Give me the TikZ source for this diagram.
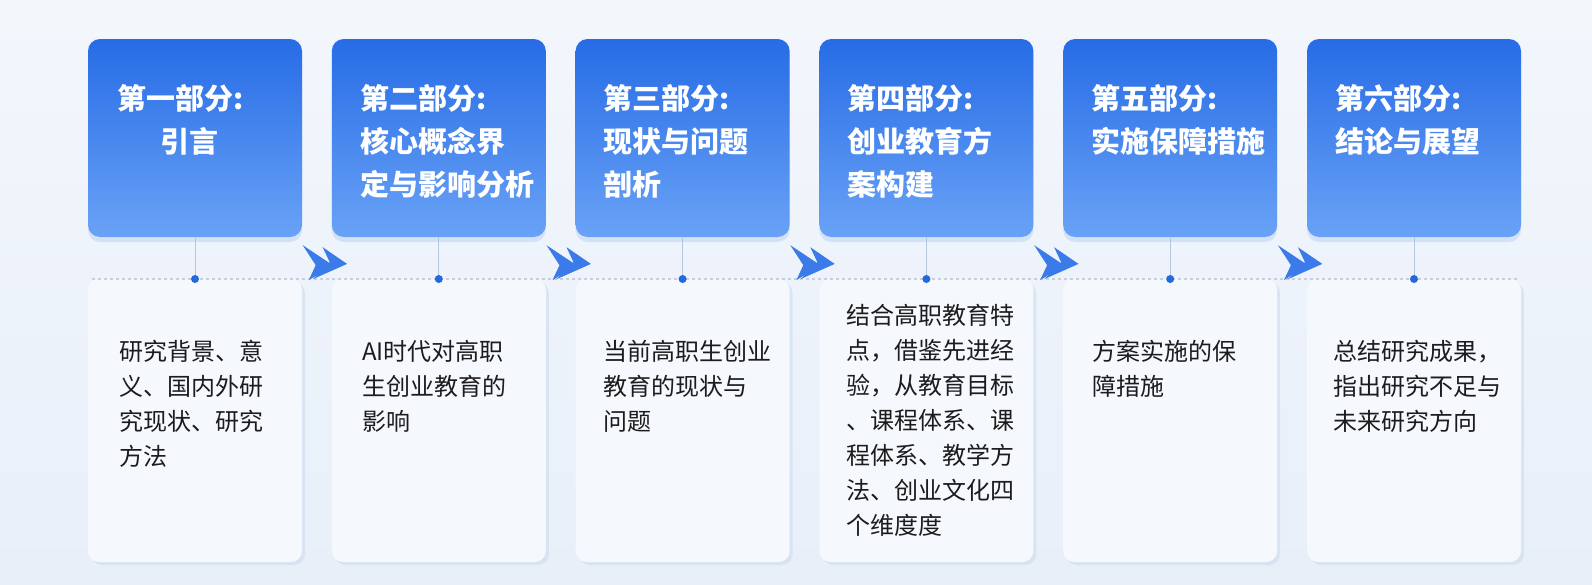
\documentclass[tikz,border=0pt]{standalone}
\usepackage{fontspec}
\setmainfont{Noto Sans CJK SC}
\usetikzlibrary{shadows}
\definecolor{bgtop}{HTML}{F3F7FC}
\definecolor{bgbot}{HTML}{E8EFF9}
\definecolor{boxtop}{HTML}{276CE6}
\definecolor{boxbot}{HTML}{69A2F6}
\definecolor{cardc}{HTML}{F5F8FD}
\definecolor{chevc}{HTML}{3A7BE9}
\definecolor{dotc}{HTML}{2468DE}
\definecolor{stemc}{HTML}{B4C6DC}
\definecolor{dashc}{HTML}{C6D0DC}
\definecolor{shadc}{HTML}{5A8FE8}
\definecolor{cshadc}{HTML}{B9CDE8}
\definecolor{txtc}{HTML}{1C1C1C}
\tikzset{
  topbox/.style={rounded corners=12pt, minimum width=214pt, minimum height=198pt,
    inner sep=0pt, top color=boxtop, bottom color=boxbot,
    drop shadow={opacity=0.18, shadow xshift=0pt, shadow yshift=-5pt, fill=shadc}},
  card/.style={rounded corners=11pt, minimum width=214pt, minimum height=283pt,
    inner sep=0pt, fill=cardc,
    drop shadow={opacity=0.35, shadow xshift=3pt, shadow yshift=-3pt, fill=cshadc}},
  title/.style={anchor=base west, inner sep=0pt, text=white,
    font=\bfseries\fontsize{29}{43}\selectfont},
  body/.style={anchor=base west, inner sep=0pt, text=txtc,
    font=\fontsize{24}{35}\selectfont},
  dotn/.style={circle, fill=dotc, minimum size=8pt, inner sep=0pt},
  stem/.style={draw=stemc, line width=0.9pt},
  rule/.style={draw=dashc, line width=1.1pt, dash pattern=on 3pt off 3pt},
  chev/.pic={
    \fill[chevc] (0,0) -- (30,-20) -- (6,-35) -- (13,-20) -- cycle;
    \fill[chevc] (20,-2) -- (44.4,-18.7) -- (10,-34) -- (27,-17) -- cycle;}
}
\begin{document}
\begin{tikzpicture}[x=1pt,y=1pt]
\useasboundingbox (0,0) rectangle (1592,-584);
\shade[top color=bgtop, bottom color=bgbot] (0,0) rectangle (1592,-584);

% cards
\node[card] (c1) at (195.0,-420.5) {};
\node[card] (c2) at (438.8,-420.5) {};
\node[card] (c3) at (682.6,-420.5) {};
\node[card] (c4) at (926.4,-420.5) {};
\node[card] (c5) at (1170.2,-420.5) {};
\node[card] (c6) at (1414.0,-420.5) {};

% dashed rule
\coordinate (rl) at (92,-279);
\coordinate (rr) at (1517,-279);
\draw[rule] (rl) -- (rr);

% top boxes
\node[topbox] (t1) at (195.0,-138) {};
\node[topbox] (t2) at (438.8,-138) {};
\node[topbox] (t3) at (682.6,-138) {};
\node[topbox] (t4) at (926.4,-138) {};
\node[topbox] (t5) at (1170.2,-138) {};
\node[topbox] (t6) at (1414.0,-138) {};

% dots
\node[dotn] (d1) at (195.0,-279) {};
\node[dotn] (d2) at (438.8,-279) {};
\node[dotn] (d3) at (682.6,-279) {};
\node[dotn] (d4) at (926.4,-279) {};
\node[dotn] (d5) at (1170.2,-279) {};
\node[dotn] (d6) at (1414.0,-279) {};

\draw[stem] (t1.south) -- (d1.north);
\draw[stem] (t2.south) -- (d2.north);
\draw[stem] (t3.south) -- (d3.north);
\draw[stem] (t4.south) -- (d4.north);
\draw[stem] (t5.south) -- (d5.north);
\draw[stem] (t6.south) -- (d6.north);

% chevrons
\pic at ([xshift=0.5pt,yshift=-8pt]t1.south east) {chev};
\pic at ([xshift=0.5pt,yshift=-8pt]t2.south east) {chev};
\pic at ([xshift=0.5pt,yshift=-8pt]t3.south east) {chev};
\pic at ([xshift=0.5pt,yshift=-8pt]t4.south east) {chev};
\pic at ([xshift=0.5pt,yshift=-8pt]t5.south east) {chev};

% titles
\node[title] (h1) at (117,-109) {\vtop{\hbox{第一部分:}\hbox{\hspace*{43pt}引言}}};
\node[title] (h2) at (359.8,-109) {\vtop{\hbox{第二部分:}\hbox{核心概念界}\hbox{定与影响分析}}};
\node[title] (h3) at (603.6,-109) {\vtop{\hbox{第三部分:}\hbox{现状与问题}\hbox{剖析}}};
\node[title] (h4) at (847.4,-109) {\vtop{\hbox{第四部分:}\hbox{创业教育方}\hbox{案构建}}};
\node[title] (h5) at (1091.2,-109) {\vtop{\hbox{第五部分:}\hbox{实施保障措施}}};
\node[title] (h6) at (1335.0,-109) {\vtop{\hbox{第六部分:}\hbox{结论与展望}}};

% bodies
\node[body] (b1) at (119,-360) {\vtop{\hbox{研究背景、意}\hbox{义、国内外研}\hbox{究现状、研究}\hbox{方法}}};
\node[body] (b2) at (361.8,-360) {\vtop{\hbox{AI时代对高职}\hbox{生创业教育的}\hbox{影响}}};
\node[body] (b3) at (603.6,-360) {\vtop{\hbox{当前高职生创业}\hbox{教育的现状与}\hbox{问题}}};
\node[body] (b4) at (846.4,-324) {\vtop{\hbox{结合高职教育特}\hbox{点，借鉴先进经}\hbox{验，从教育目标}\hbox{、课程体系、课}\hbox{程体系、教学方}\hbox{法、创业文化四}\hbox{个维度度}}};
\node[body] (b5) at (1092.2,-360) {\vtop{\hbox{方案实施的保}\hbox{障措施}}};
\node[body] (b6) at (1333.0,-360) {\vtop{\hbox{总结研究成果，}\hbox{指出研究不足与}\hbox{未来研究方向}}};
\end{tikzpicture}
\end{document}
